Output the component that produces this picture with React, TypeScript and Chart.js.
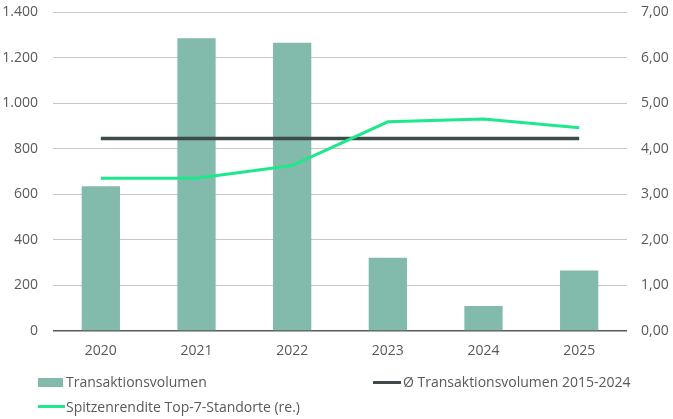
import React, { useEffect, useRef } from "react";
import { Chart, registerables } from "chart.js";

Chart.register(...registerables);

const years = ["2020", "2021", "2022", "2023", "2024", "2025"];
const volumen = [635, 1285, 1265, 322, 110, 266];
const durchschnitt = [845, 845, 845, 845, 845, 845];
const rendite = [3.35, 3.35, 3.63, 4.59, 4.65, 4.46];

const labelVolumen = "Transaktionsvolumen";
const labelDurchschnitt = "Ø Transaktionsvolumen 2015-2024";
const labelRendite = "Spitzenrendite Top-7-Standorte (re.)";

const barColor = "#82BAAB";
const greenColor = "#1EE88C";
const darkColor = "#3F4A4B";
const textColor = "#595959";
const gridColor = "#C6C6C6";
const FONT = "'Open Sans', sans-serif";

export default function App() {
  const ref = useRef<HTMLCanvasElement | null>(null);

  useEffect(() => {
    document.body.style.margin = "0";
    if (!ref.current) return;
    const chart = new Chart(ref.current, {
      type: "bar",
      data: {
        labels: years,
        datasets: [
          {
            type: "line",
            label: labelRendite,
            data: rendite,
            yAxisID: "y1",
            borderColor: greenColor,
            borderWidth: 3,
            pointRadius: 0,
            tension: 0,
            order: 0,
          },
          {
            type: "line",
            label: labelDurchschnitt,
            data: durchschnitt,
            yAxisID: "y",
            borderColor: darkColor,
            borderWidth: 3.5,
            pointRadius: 0,
            tension: 0,
            order: 1,
          },
          {
            type: "bar",
            label: labelVolumen,
            data: volumen,
            yAxisID: "y",
            backgroundColor: barColor,
            categoryPercentage: 1,
            barPercentage: 0.4,
            order: 2,
          },
        ],
      },
      options: {
        animation: false,
        responsive: false,
        maintainAspectRatio: false,
        layout: { padding: { top: 12, left: 0, right: 0, bottom: 0 } },
        plugins: { legend: { display: false }, tooltip: { enabled: false } },
        scales: {
          x: {
            grid: { display: false, drawTicks: false },
            border: { display: false },
            ticks: { color: textColor, font: { family: FONT, size: 14 }, padding: 12 },
            afterFit: (s: any) => {
              s.height = 88;
              s.paddingLeft = 0;
              s.paddingRight = 0;
            },
          },
          y: {
            position: "left",
            min: 0,
            max: 1400,
            border: { display: false },
            grid: {
              drawTicks: false,
              color: (ctx: any) => (ctx.tick && ctx.tick.value === 0 ? "#595959" : gridColor),
              lineWidth: (ctx: any) => (ctx.tick && ctx.tick.value === 0 ? 1.5 : 1),
            },
            ticks: {
              stepSize: 200,
              padding: 15,
              color: textColor,
              font: { family: FONT, size: 14 },
              callback: (v: any) => Number(v).toLocaleString("de-DE"),
            },
            afterFit: (s: any) => {
              s.width = 53;
              s.paddingTop = 0;
              s.paddingBottom = 0;
            },
          },
          y1: {
            position: "right",
            min: 0,
            max: 7,
            border: { display: false },
            grid: { display: false, drawTicks: false },
            ticks: {
              stepSize: 1,
              padding: 14,
              color: textColor,
              font: { family: FONT, size: 14 },
              callback: (v: any) => Number(v).toFixed(2).replace(".", ","),
            },
            afterFit: (s: any) => {
              s.width = 46;
              s.paddingTop = 0;
              s.paddingBottom = 0;
            },
          },
        },
      },
    });
    return () => chart.destroy();
  }, []);

  const legendText: React.CSSProperties = {
    position: "absolute",
    fontFamily: FONT,
    fontSize: 14,
    color: textColor,
    lineHeight: "16px",
    whiteSpace: "nowrap",
  };

  return (
    <div style={{ position: "relative", width: 673, height: 419, background: "#fff" }}>
      <canvas ref={ref} width={673} height={419} style={{ position: "absolute", left: 0, top: 0, width: 673, height: 419 }} />
      <div style={{ position: "absolute", left: 38, top: 378, width: 25, height: 9, background: barColor }} />
      <div style={{ ...legendText, left: 66, top: 374 }}>{labelVolumen}</div>
      <div style={{ position: "absolute", left: 373, top: 380.5, width: 28, height: 3, background: darkColor }} />
      <div style={{ ...legendText, left: 403, top: 374 }}>{labelDurchschnitt}</div>
      <div style={{ position: "absolute", left: 38, top: 405, width: 27, height: 3, background: greenColor }} />
      <div style={{ ...legendText, left: 66, top: 398.5 }}>{labelRendite}</div>
    </div>
  );
}
